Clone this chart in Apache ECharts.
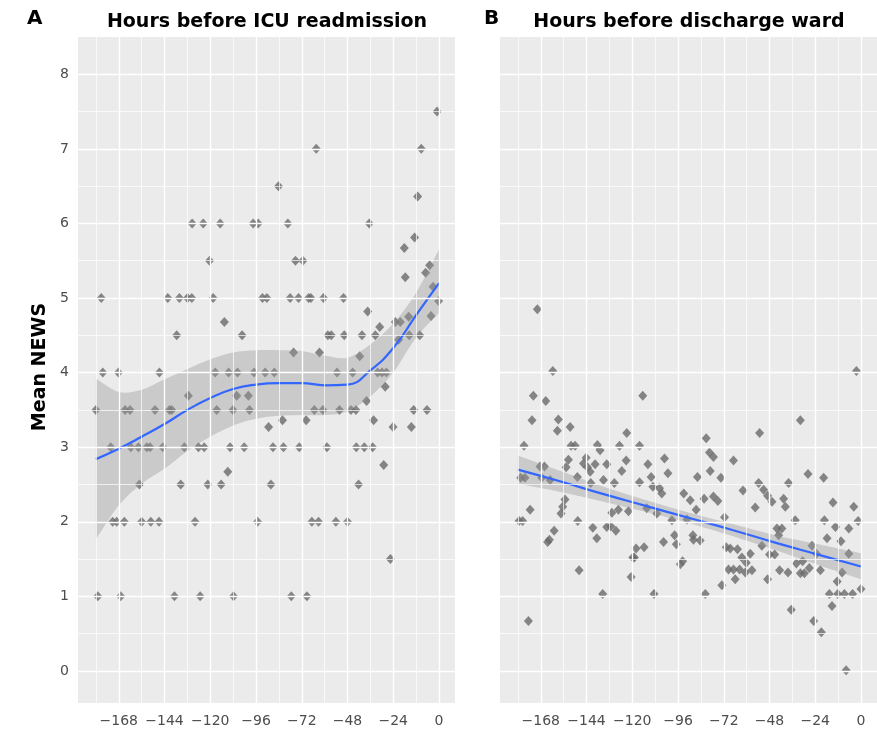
<!DOCTYPE html>
<html>
<head>
<meta charset="utf-8">
<script src="https://cdn.jsdelivr.net/npm/echarts@6/dist/echarts.min.js"></script>
<style>
html,body{margin:0;padding:0;background:#fff;}
#chart{width:877px;height:732px;}
</style>
</head>
<body>
<div id="chart"></div>
<script>
// ---------- tick values / labels ----------
const xTicks = [-168, -144, -120, -96, -72, -48, -24, 0];
const xTickLabels = ['\u2212168', '\u2212144', '\u2212120', '\u221296', '\u221272', '\u221248', '\u221224', '0'];
const xMinor = [-180, -156, -132, -108, -84, -60, -36, -12];
const yTicks = [0, 1, 2, 3, 4, 5, 6, 7, 8];
const yMinor = [0.5, 1.5, 2.5, 3.5, 4.5, 5.5, 6.5, 7.5];

// ---------- Panel A: hours before ICU readmission ----------
const pointsA = [
  [-129.5,6],[-123.7,6],[-114.8,6],[-97.5,6],[-94.9,6],[-79.3,6],[-36.6,6],
  [-11.2,6.36],[-64.4,7],[-9.3,7],[-1,7.5],[-84.2,6.5],[-12.8,5.81],[-18.2,5.67],
  [-120.4,5.5],[-75.3,5.5],[-71.4,5.5],[-4.9,5.44],[-7,5.34],[-17.7,5.28],[-3.1,5.15],
  [-177.2,5],[-142.3,5],[-136.2,5],[-132,5],[-129.7,5],[-118.5,5],[-92.6,5],[-90.3,5],
  [-78.1,5],[-73.7,5],[-68.4,5],[-67.2,5],[-60.6,5],[-50.1,5],[-0.2,4.96],
  [-37.4,4.82],[-4.2,4.76],[-15.9,4.75],[-112.6,4.68],[-22.9,4.68],[-20.3,4.68],[-31.1,4.61],
  [-137.6,4.5],[-103.3,4.5],[-58.3,4.5],[-56.5,4.5],[-49.7,4.5],[-40.4,4.5],[-33.4,4.5],[-15.6,4.5],[-10.1,4.5],
  [-21.2,4.44],[-76.3,4.27],[-62.7,4.27],[-41.6,4.22],
  [-176.4,4],[-168.2,4],[-146.7,4],[-117.4,4],[-110.4,4],[-105.7,4],[-97,4],[-91.2,4],[-86.4,4],
  [-53.5,4],[-45.3,4],[-32.2,4],[-29.9,4],[-27.6,4],[-28.2,3.81],
  [-131.5,3.69],[-106.1,3.69],[-100,3.69],[-38,3.62],
  [-180,3.5],[-164.7,3.5],[-162.1,3.5],[-149,3.5],[-141.4,3.5],[-140.2,3.5],[-116.6,3.5],[-108.1,3.5],
  [-99.4,3.5],[-65.4,3.5],[-60.9,3.5],[-52.2,3.5],[-46.2,3.5],[-43.6,3.5],[-13.3,3.5],[-6.3,3.5],
  [-82.1,3.36],[-69.7,3.36],[-34.3,3.36],[-89.4,3.27],[-24.1,3.27],[-14.5,3.27],
  [-172.2,3],[-161.7,3],[-157.7,3],[-153.3,3],[-151.6,3],[-144.9,3],[-133.6,3],[-126.2,3],[-123.2,3],
  [-109.6,3],[-102.2,3],[-87.1,3],[-81.6,3],[-73.3,3],[-58.8,3],[-43.4,3],[-39.2,3],[-34.8,3],
  [-29,2.76],[-110.8,2.67],
  [-157.2,2.5],[-135.5,2.5],[-121.3,2.5],[-114.3,2.5],[-88.2,2.5],[-42.2,2.5],
  [-171.2,2],[-169.1,2],[-165.1,2],[-156,2],[-151.2,2],[-146.9,2],[-128,2],[-95.2,2],[-66.7,2],[-63.2,2],[-54.1,2],[-48,2],
  [-25.5,1.5],
  [-179,1],[-167,1],[-138.8,1],[-125.3,1],[-107.8,1],[-77.5,1],[-69.3,1]
];
const fitHoursA = [-180,-168,-156,-144,-132,-120,-108,-96,-84,-72,-60,-48,-36,-24,-12,0];
const fitA      = [2.84,2.98,3.14,3.31,3.50,3.66,3.78,3.84,3.86,3.86,3.83,3.84,4.03,4.33,4.77,5.20];
const lowerA    = [1.76,2.22,2.51,2.71,2.95,3.14,3.29,3.38,3.42,3.43,3.43,3.48,3.68,4.00,4.47,4.80];
const upperA    = [3.92,3.74,3.77,3.91,4.05,4.18,4.27,4.30,4.30,4.29,4.23,4.20,4.38,4.66,5.07,5.65];

// ---------- Panel B: hours before discharge ward ----------
const pointsB = [
  [-169.8,4.85],[-161.7,4.02],[-171.9,3.69],[-165.4,3.62],[-114.5,3.69],[-172.6,3.36],[-158.8,3.37],
  [-159.3,3.22],[-152.6,3.27],[-122.9,3.19],[-176.8,3.02],[-152.1,3.02],[-150,3.02],[-138.3,3.03],
  [-136.9,2.96],[-126.7,3.02],[-116.2,3.02],[-153.5,2.83],[-144.2,2.86],[-145.6,2.78],[-143.5,2.73],
  [-139.5,2.77],[-133.4,2.77],[-123.2,2.82],[-111.8,2.77],[-103.1,2.85],[-168.4,2.74],[-166.1,2.74],
  [-154.7,2.73],[-148.8,2.60],[-142.1,2.67],[-125.5,2.68],[-110.1,2.60],[-101.3,2.65],
  [-178.5,2.59],[-176.3,2.59],[-167.5,2.59],[-163.1,2.56],[-141.8,2.52],[-135.1,2.56],[-129.4,2.52],
  [-116.2,2.53],[-109.2,2.47],[-105.7,2.45],[-104.5,2.38],[-93,2.38],[-155.3,2.30],[-156.5,2.20],
  [-157.4,2.11],[-173.6,2.16],[-127.3,2.16],[-122,2.14],[-107.1,2.11],[-112.4,2.18],[-99.2,2.02],
  [-179.4,2.01],[-177.5,2.01],[-148.6,2.01],[-130.7,2.12],[-161,1.88],[-163.5,1.76],[-164.4,1.73],
  [-140.7,1.92],[-138.6,1.78],[-133.4,1.93],[-131.3,1.94],[-128.6,1.88],[-118,1.64],[-113.8,1.66],
  [-119.7,1.52],[-118.9,1.52],[-103.6,1.73],[-97.8,1.82],[-96.9,1.70],[-93.6,1.47],[-94.8,1.43],
  [-147.9,1.35],[-120.6,1.26],[-135.5,1.03],[-108.6,1.03],[-174.5,0.67],
  [-2.4,4.02],[-31.8,3.36],[-53.2,3.19],[-81.2,3.12],[-79.5,2.93],[-77.4,2.87],[-66.9,2.82],
  [-79.1,2.68],[-85.8,2.60],[-73.5,2.59],[-27.8,2.64],[-19.6,2.59],[-89.6,2.29],[-82.3,2.31],
  [-77.4,2.34],[-75.1,2.28],[-61.9,2.42],[-53.7,2.52],[-51.1,2.43],[-49,2.35],[-55.5,2.19],
  [-46.7,2.27],[-40.6,2.31],[-39.7,2.20],[-38,2.52],[-14.7,2.26],[-3.8,2.20],[-91.3,2.03],
  [-86.5,2.16],[-71.6,2.06],[-34.5,2.02],[-19.2,2.02],[-13.4,1.93],[-6.4,1.91],[-1.5,2.01],
  [-88.2,1.82],[-87.9,1.76],[-84.4,1.75],[-70.7,1.66],[-68.6,1.64],[-64.8,1.63],[-62.5,1.52],
  [-60.2,1.45],[-58.1,1.57],[-52,1.68],[-48,1.56],[-45.3,1.56],[-44.1,1.91],[-41.5,1.91],[-43.2,1.82],
  [-25.7,1.68],[-23.4,1.57],[-33.9,1.44],[-30.6,1.47],[-31.8,1.31],[-29.7,1.31],[-27.1,1.38],
  [-21.3,1.35],[-17.8,1.78],[-10.5,1.74],[-6.4,1.57],[-9.9,1.32],[-12.5,1.20],
  [-69.5,1.36],[-66.9,1.36],[-63.7,1.36],[-60.7,1.32],[-57.2,1.35],[-66,1.23],[-49,1.23],
  [-42.7,1.35],[-38.3,1.32],[-73,1.15],[-81.7,1.03],[-16.6,1.03],[-12.2,1.03],[-8.7,1.03],[-4.4,1.03],
  [0,1.10],[-15.2,0.87],[-36.6,0.82],[-24.8,0.67],[-20.8,0.52],[-7.8,0.01]
];
const fitHoursB = [-180,-157.5,-135,-112.5,-90,-67.5,-45,-22.5,0];
const fitB      = [2.70,2.54,2.37,2.21,2.05,1.89,1.72,1.56,1.40];
const lowerB    = [2.51,2.40,2.27,2.13,1.98,1.81,1.62,1.42,1.23];
const upperB    = [2.89,2.68,2.47,2.29,2.12,1.97,1.82,1.70,1.58];

// ---------- helpers ----------
const pair = (xs, ys) => xs.map((x, i) => [x, ys[i]]);

const FONT = 'DejaVu Sans';
const GRID_BG = '#EBEBEB';

// Catmull-Rom path segments through pixel points (rendering only)
function splineSegs(p) {
  let s = '';
  for (let i = 0; i < p.length - 1; i++) {
    const p0 = p[Math.max(0, i - 1)], p1 = p[i], p2 = p[i + 1], p3 = p[Math.min(p.length - 1, i + 2)];
    const c1 = [p1[0] + (p2[0] - p0[0]) / 6, p1[1] + (p2[1] - p0[1]) / 6];
    const c2 = [p2[0] - (p3[0] - p1[0]) / 6, p2[1] - (p3[1] - p1[1]) / 6];
    s += ' C' + c1[0] + ',' + c1[1] + ' ' + c2[0] + ',' + c2[1] + ' ' + p2[0] + ',' + p2[1];
  }
  return s;
}

function gridLineSeries(idx) {
  const major = { color: '#FFFFFF', width: 1.4, type: 'solid' };
  const minor = { color: '#FFFFFF', width: 0.7, type: 'solid' };
  return {
    type: 'line', xAxisIndex: idx, yAxisIndex: idx, data: [], z: 1, silent: true,
    markLine: {
      silent: true, symbol: ['none', 'none'], animation: false,
      label: { show: false },
      data: [
        ...xMinor.map(v => ({ xAxis: v, lineStyle: minor })),
        ...yMinor.map(v => ({ yAxis: v, lineStyle: minor })),
        ...xTicks.map(v => ({ xAxis: v, lineStyle: major })),
        ...yTicks.map(v => ({ yAxis: v, lineStyle: major }))
      ]
    }
  };
}

function xAxisCfg(idx) {
  return {
    type: 'value', gridIndex: idx, min: -189.4, max: 8.4,
    splitLine: { show: false }, axisLine: { show: false },
    axisTick: { show: true, customValues: xTicks, length: 4, lineStyle: { color: '#333333', width: 1 } },
    axisLabel: {
      customValues: xTicks, margin: 11, color: '#4D4D4D', fontFamily: FONT, fontSize: 14,
      formatter: v => { const i = xTicks.indexOf(Math.round(v)); return i >= 0 ? xTickLabels[i] : ''; }
    }
  };
}
function yAxisCfg(idx, showLabels) {
  return {
    type: 'value', gridIndex: idx, min: -0.43, max: 8.5,
    splitLine: { show: false }, axisLine: { show: false },
    axisTick: { show: showLabels, customValues: yTicks, length: 4, lineStyle: { color: '#333333', width: 1 } },
    axisLabel: {
      show: showLabels, customValues: yTicks, margin: 9, color: '#4D4D4D', fontFamily: FONT, fontSize: 14,
      formatter: v => String(Math.round(v))
    }
  };
}

function ribbonSeries(idx, hrs, lo, up) {
  const data = hrs.map((h, i) => [h, lo[i], up[i]]);
  return {
    type: 'custom', xAxisIndex: idx, yAxisIndex: idx, data: data, z: 3, silent: true,
    encode: { x: 0, y: [1, 2] },
    renderItem: (params, api) => {
      if (params.dataIndex !== 0) return null;
      const upPts = data.map(d => api.coord([d[0], d[2]]));
      const loPts = data.map(d => api.coord([d[0], d[1]])).reverse();
      const path = 'M' + upPts[0][0] + ',' + upPts[0][1] + splineSegs(upPts) +
        ' L' + loPts[0][0] + ',' + loPts[0][1] + splineSegs(loPts) + ' Z';
      return { type: 'path', shape: { pathData: path }, style: { fill: 'rgba(153,153,153,0.4)' } };
    }
  };
}

function panelSeries(idx, pts, hrs, fit, lo, up) {
  return [
    gridLineSeries(idx),
    {
      type: 'scatter', xAxisIndex: idx, yAxisIndex: idx, data: pts, z: 2,
      symbol: 'diamond', symbolSize: [9, 10],
      itemStyle: { color: '#6A6A6A' }, silent: true
    },
    ribbonSeries(idx, hrs, lo, up),
    {
      type: 'line', xAxisIndex: idx, yAxisIndex: idx, data: pair(hrs, fit),
      smooth: true, symbol: 'none', lineStyle: { color: '#3366FF', width: 2.2 }, z: 4, silent: true
    }
  ];
}

const chart = echarts.init(document.getElementById('chart'), null, { renderer: 'canvas' });
chart.setOption({
  backgroundColor: '#FFFFFF',
  animation: false,
  grid: [
    { left: 78, top: 37, width: 377, height: 666, show: true, backgroundColor: GRID_BG, borderWidth: 0 },
    { left: 500, top: 37, width: 377, height: 666, show: true, backgroundColor: GRID_BG, borderWidth: 0 }
  ],
  xAxis: [xAxisCfg(0), xAxisCfg(1)],
  yAxis: [yAxisCfg(0, true), yAxisCfg(1, false)],
  graphic: [
    { type: 'text', left: 27, top: 9, style: { text: 'A', font: 'bold 20px "DejaVu Sans"', fill: '#000' } },
    { type: 'text', left: 484, top: 9, style: { text: 'B', font: 'bold 20px "DejaVu Sans"', fill: '#000' } },
    { type: 'text', x: 267, y: 22, style: { text: 'Hours before ICU readmission', font: 'bold 19px "DejaVu Sans"', fill: '#000', align: 'center', verticalAlign: 'middle' } },
    { type: 'text', x: 689, y: 22, style: { text: 'Hours before discharge ward', font: 'bold 19px "DejaVu Sans"', fill: '#000', align: 'center', verticalAlign: 'middle' } },
    { type: 'text', x: 40, y: 367, rotation: Math.PI / 2, style: { text: 'Mean NEWS', font: 'bold 19px "DejaVu Sans"', fill: '#000', align: 'center', verticalAlign: 'middle' } }
  ],
  series: [
    ...panelSeries(0, pointsA, fitHoursA, fitA, lowerA, upperA),
    ...panelSeries(1, pointsB, fitHoursB, fitB, lowerB, upperB)
  ]
});
</script>
</body>
</html>
